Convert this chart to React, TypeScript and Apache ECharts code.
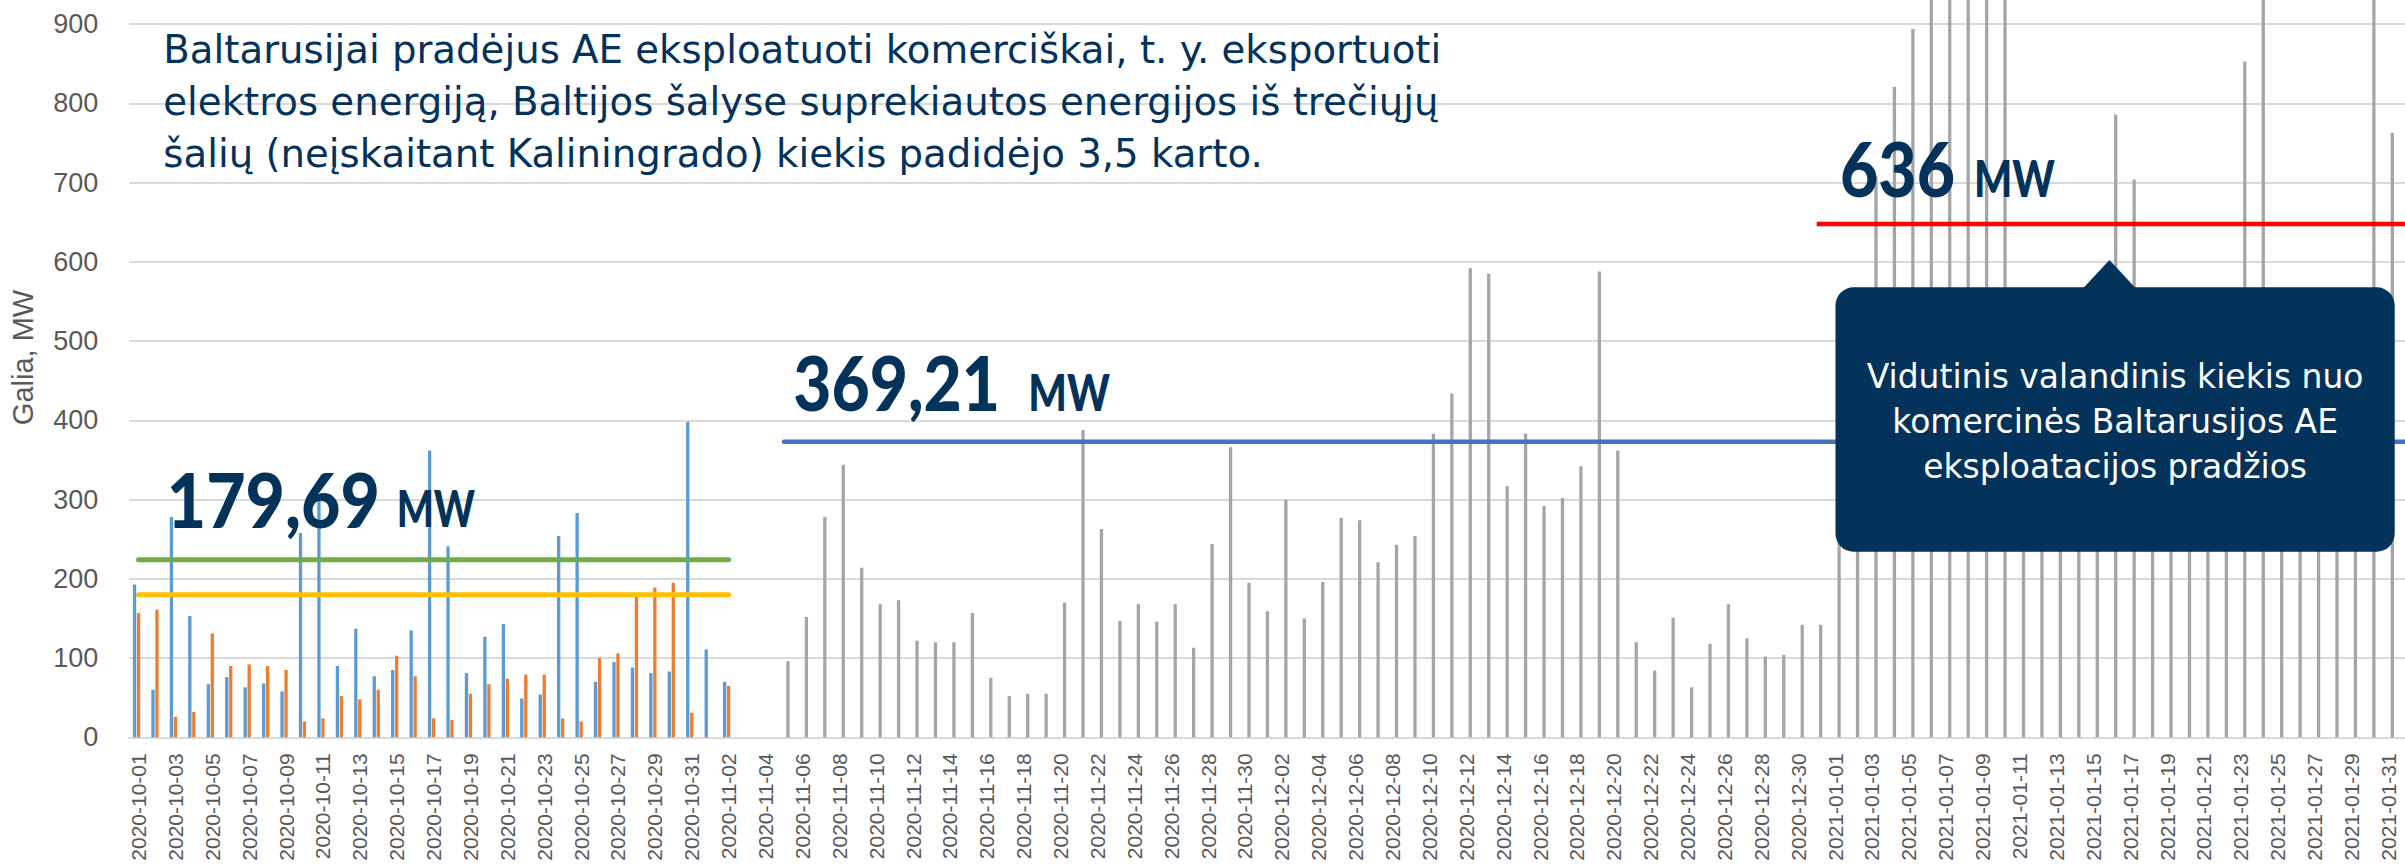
import React, { useEffect, useRef } from 'react';
import * as echarts from 'echarts';

// ---------- data ----------
const CATEGORY_START = '2020-10-01';
const CATEGORY_END = '2021-02-01';

function dayList(start: string, end: string): string[] {
  const out: string[] = [];
  const t0 = Date.parse(start + 'T00:00:00Z');
  const t1 = Date.parse(end + 'T00:00:00Z');
  for (let t = t0; t <= t1; t += 86400000) out.push(new Date(t).toISOString().slice(0, 10));
  return out;
}
const categories = dayList(CATEGORY_START, CATEGORY_END);

// blue bars, 2020-10-01 .. 2020-11-02
const blueStart = '2020-10-01';
const blueValues = [193, 60, 278, 153, 67, 76, 63, 68, 58, 258, 300, 90, 137, 77, 85, 135, 362, 241, 81, 127, 143, 49, 54, 254, 283, 70, 95, 88, 81, 83, 398, 111, 70];

// orange bars, 2020-10-01 .. 2020-11-02
const orangeStart = '2020-10-01';
const orangeValues = [157, 161, 26, 32, 131, 90, 92, 90, 85, 20, 24, 52, 48, 60, 103, 77, 24, 22, 55, 67, 74, 79, 79, 24, 20, 100, 106, 179, 189, 195, 31, null, 65];

// grey bars, 2020-11-05 .. 2021-01-31
const grayStart = '2020-11-05';
const grayNov = [96, 152, 278, 344, 214, 168, 173, 122, 120, 120, 157, 75, 52, 55, 55, 170, 388, 263, 147, 168, 146, 168, 113, 244, 366, 195];
const grayDec = [159, 300, 150, 196, 277, 274, 221, 243, 254, 383, 434, 592, 585, 317, 383, 292, 302, 342, 588, 362, 120, 84, 151, 63, 118, 168, 125, 102, 104, 142, 142];
const grayJan = [300, 380, 708, 821, 894, 960, 1040, 1000, 1080, 990, 520, 480, 430, 470, 540, 786, 704, 500, 420, 390, 450, 510, 853, 1020, 540, 460, 410, 430, 520, 970, 763];

// average lines (value, from, to)
const avgOctHigh = 224;
const avgOctLow = 180;
const avgOctRange = ['2020-10-01', '2020-11-02'];
const avgSinceStart = 373;
const avgSinceStartRange = ['2020-11-05', '2021-02-01'];
const avgJan = 648;
const avgJanRange = ['2020-12-31', '2021-02-01'];

// y axis ticks
const yMin = 0;
const yMax = 1000;
const yStep = 100;
const yLastShown = 900;

// texts
const titleLines = [
  'Baltarusijai pradėjus AE eksploatuoti komerciškai, t. y. eksportuoti',
  'elektros energiją, Baltijos šalyse suprekiautos energijos iš trečiųjų',
  'šalių (neįskaitant Kaliningrado) kiekis padidėjo 3,5 karto.',
];
const bigLabels = ['179,69', '369,21', '636'];
const unitLabel = 'MW';
const calloutLines = [
  'Vidutinis valandinis kiekis nuo',
  'komercinės Baltarusijos AE',
  'eksploatacijos pradžios',
];
const yAxisTitle = 'Galia, MW';

// ---------- helpers ----------
function placed(start: string, values: (number | null)[]) {
  const i0 = categories.indexOf(start);
  return categories.map((_, i) => {
    const k = i - i0;
    return k >= 0 && k < values.length ? values[k] : null;
  });
}
function flat(value: number, range: string[]) {
  const a = categories.indexOf(range[0]);
  const b = categories.indexOf(range[1]);
  return categories.map((_, i) => (i >= a && i <= b ? value : null));
}

const NAVY = '#03325a';
const W = 2405;
const H = 865;

let measureCtx: CanvasRenderingContext2D | null = null;
function ctx() {
  if (!measureCtx) measureCtx = document.createElement('canvas').getContext('2d');
  return measureCtx!;
}
function textWidth(text: string, font: string) {
  const c = ctx();
  c.font = font;
  return c.measureText(text).width;
}
function centralOffset(font: string, size: number) {
  const c = ctx();
  c.font = font;
  const m: any = c.measureText('Mg');
  if (m.fontBoundingBoxAscent !== undefined) return (m.fontBoundingBoxAscent - m.fontBoundingBoxDescent) / 2;
  return size * 0.35;
}

function textEl(text: string, family: string, size: number, weight: string, fill: string,
  x: number, baseline: number, align: string, targetWidth: number | null, scaleOverride?: number) {
  const font = `${weight} ${size}px ${family}`;
  let scaleX = 1;
  if (scaleOverride !== undefined) scaleX = scaleOverride;
  else if (targetWidth) scaleX = targetWidth / textWidth(text, font);
  return {
    type: 'text',
    x,
    y: baseline - centralOffset(font, size),
    scaleX,
    z: 100,
    style: {
      text,
      font,
      fill,
      textAlign: align,
      textVerticalAlign: 'middle',
      verticalAlign: 'middle',
    },
  };
}

function buildGraphic() {
  const els: any[] = [];
  // title
  const titleFamily = "'DejaVu Sans', sans-serif";
  const titleSize = 39;
  const titleScale = 1278 / textWidth(titleLines[0], `normal ${titleSize}px ${titleFamily}`);
  const titleBaselines = [63.3, 115, 166.5];
  titleLines.forEach((t, i) => {
    els.push(textEl(t, titleFamily, titleSize, 'normal', NAVY, 163.3, titleBaselines[i], 'left', null, titleScale));
  });

  // big numbers with unit
  const numFamily = "Lato, 'DejaVu Sans', sans-serif";
  const numPos = [
    { l: 166.7, r: 380, base: 527.3, ul: 396.7, ur: 475 },
    { l: 793.3, r: 1000, base: 411, ul: 1028.3, ur: 1110 },
    { l: 1840, r: 1955, base: 196.7, ul: 1974, ur: 2055 },
  ];
  bigLabels.forEach((t, i) => {
    const p = numPos[i];
    els.push(textEl(t, numFamily, 77, '900', NAVY, p.l, p.base, 'left', p.r - p.l));
    els.push(textEl(unitLabel, numFamily, 52, '900', NAVY, p.ul, p.base, 'left', p.ur - p.ul));
  });

  // callout
  els.push({
    type: 'rect', z: 90,
    shape: { x: 1835.5, y: 287.3, width: 559.2, height: 264.4, r: 18 },
    style: { fill: NAVY },
  });
  els.push({
    type: 'polygon', z: 90,
    shape: { points: [[2082.5, 289], [2109.4, 260], [2136.5, 289]] },
    style: { fill: NAVY },
  });
  const cFamily = "'DejaVu Sans', sans-serif";
  const cSize = 34;
  const cScale = 497 / textWidth(calloutLines[0], `normal ${cSize}px ${cFamily}`);
  const cBase = [388.3, 433.3, 478.3];
  calloutLines.forEach((t, i) => {
    els.push(textEl(t, cFamily, cSize, 'normal', '#ffffff', 2115.1, cBase[i], 'center', null, cScale));
  });

  // y axis title (rotated)
  const yFont = `normal 29px 'Liberation Sans', sans-serif`;
  els.push({
    type: 'text',
    x: 33.3 - centralOffset(yFont, 29),
    y: 357.5,
    rotation: Math.PI / 2,
    z: 100,
    style: {
      text: yAxisTitle,
      font: yFont,
      fill: '#595959',
      textAlign: 'center',
      textVerticalAlign: 'middle',
      verticalAlign: 'middle',
    },
  });
  return els;
}

export default function App() {
  const ref = useRef<HTMLDivElement>(null);
  useEffect(() => {
    const el = ref.current!;
    const chart = echarts.init(el, null, { renderer: 'svg' });
    const barCommon = { type: 'bar', barWidth: 3.3, barGap: '21%' };
    const lineCommon = { type: 'line', symbol: 'none', connectNulls: false, z: 5 };
    chart.setOption({
      animation: false,
      backgroundColor: '#ffffff',
      grid: { left: 129.3, right: -11, top: -55, bottom: 127.7, outerBoundsMode: 'none', containLabel: false },
      xAxis: {
        type: 'category',
        data: categories,
        boundaryGap: true,
        axisTick: { show: false },
        axisLine: { lineStyle: { color: '#d9d9d9', width: 2 } },
        axisLabel: {
          rotate: 90,
          interval: 1,
          margin: 16,
          fontSize: 21,
          fontFamily: "'Liberation Sans Narrow', 'Liberation Sans', sans-serif",
          color: '#595959',
        },
      },
      yAxis: {
        type: 'value',
        min: yMin,
        max: yMax,
        interval: yStep,
        axisLine: { show: false },
        axisTick: { show: false },
        splitLine: { lineStyle: { color: '#d9d9d9', width: 2 } },
        axisLabel: {
          margin: 31,
          fontSize: 27,
          fontFamily: "'Liberation Sans', sans-serif",
          color: '#595959',
          formatter: (v: number) => (v > yLastShown ? '' : String(v)),
        },
      },
      series: [
        { ...barCommon, name: 'blue', data: placed(blueStart, blueValues), itemStyle: { color: '#5b9bd5' } },
        { ...barCommon, name: 'orange', data: placed(orangeStart, orangeValues), itemStyle: { color: '#ed7d31' } },
        { ...barCommon, name: 'gray', data: placed(grayStart, [...grayNov, ...grayDec, ...grayJan]), itemStyle: { color: '#a5a5a5' } },
        { ...lineCommon, name: 'avgOctHigh', data: flat(avgOctHigh, avgOctRange), lineStyle: { color: '#70ad47', width: 5, cap: 'round' } },
        { ...lineCommon, name: 'avgOctLow', data: flat(avgOctLow, avgOctRange), lineStyle: { color: '#ffc000', width: 5, cap: 'round' } },
        { ...lineCommon, name: 'avgSinceStart', data: flat(avgSinceStart, avgSinceStartRange), lineStyle: { color: '#4472c4', width: 4.5, cap: 'round' } },
        { ...lineCommon, name: 'avgJan', data: flat(avgJan, avgJanRange), lineStyle: { color: '#ff0000', width: 4.5 } },
      ],
      graphic: { elements: buildGraphic() },
    });
    return () => chart.dispose();
  }, []);
  return (
    <div
      ref={ref}
      style={{ position: 'fixed', left: 0, top: 0, width: W, height: H, background: '#fff' }}
    />
  );
}
